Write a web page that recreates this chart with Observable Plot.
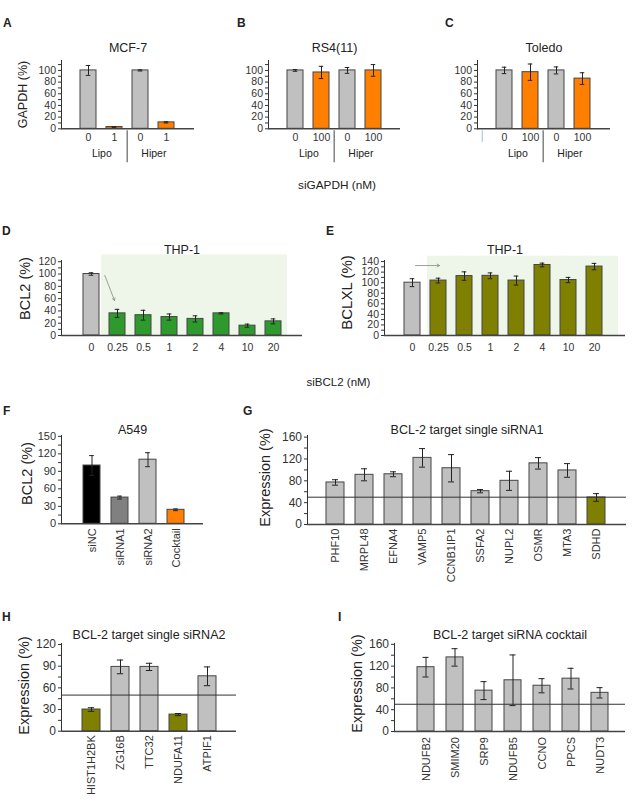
<!DOCTYPE html>
<html><head><meta charset="utf-8">
<script src="https://cdn.jsdelivr.net/npm/d3@7"></script>
<script src="https://cdn.jsdelivr.net/npm/@observablehq/plot@0.6"></script>
<style>
body{margin:0;background:#fff;}
#fig{position:relative;width:632px;height:802px;background:#fff;font-family:"Liberation Sans",Arial,Helvetica,sans-serif;color:#222;overflow:hidden}
.lab{position:absolute;line-height:1;white-space:nowrap}
svg.big [aria-label^="y-axis"] text{font-size:12px}
</style></head><body><div id="fig"></div>
<script>
// ---------- data ----------
// A–C: siGAPDH knockdown
const gapdhGroups = ["Lipo", "Lipo", "Hiper", "Hiper"];
const mcf7Dose = ["0", "1", "0", "1"];
const mcf7Values = [100, 3, 100, 11];
const mcf7Errors = [8.5, 0.5, 1, 1];
const rs4Dose = ["0", "100", "0", "100"];
const rs4Values = [100, 96.5, 100, 100];
const rs4Errors = [1.5, 10.5, 5, 10];
const toledoDose = ["0", "100", "0", "100"];
const toledoValues = [100, 97, 100, 86];
const toledoErrors = [5.5, 14, 6, 10];
// D–E: siBCL2 dose series in THP-1
const bcl2Dose = ["0", "0.25", "0.5", "1", "2", "4", "10", "20"];
const thpBcl2Values = [100, 36, 33, 30, 27, 36, 16, 23];
const thpBcl2Errors = [2, 6.5, 8, 5, 5, 1, 2.5, 4];
const thpBclxlValues = [100, 104, 112.5, 113, 104, 133.5, 105, 130.5];
const thpBclxlErrors = [7.5, 4.5, 8, 5.5, 8.5, 3.5, 5, 6];
// F: A549
const a549Cats = ["siNC", "siRNA1", "siRNA2", "Cocktail"];
const a549Values = [100, 45, 110, 24];
const a549Errors = [17, 2.5, 12, 1.5];
// G: single siRNA1 targets
const s1Genes = ["PHF10", "MRPL48", "EFNA4", "VAMP5", "CCNB1IP1", "SSFA2", "NUPL2", "OSMR", "MTA3", "SDHD"];
const s1Values = [77, 91, 92, 122, 103, 61, 80, 112, 99, 49.5];
const s1Errors = [5, 11, 4.5, 17, 25, 3, 17.5, 10.5, 12.5, 7];
// H: single siRNA2 targets
const s2Genes = ["HIST1H2BK", "ZG16B", "TTC32", "NDUFA11", "ATPIF1"];
const s2Values = [30, 89, 89, 23, 76];
const s2Errors = [2.5, 9.5, 5, 1.5, 13];
// I: cocktail targets
const ckGenes = ["NDUFB2", "SMIM20", "SRP9", "NDUFB5", "CCNO", "PPCS", "NUDT3"];
const ckValues = [118, 136, 75, 94, 84, 97, 71];
const ckErrors = [18, 16, 16.5, 46.5, 13, 19, 9.5];
const threshold = 50;

// ---------- styles ----------
const FONT = '"Liberation Sans", Arial, Helvetica, sans-serif';
const GRAY = "#c0c0c0", ORANGE = "#ff8000", GREEN = "#2e9a2e", OLIVE = "#808000", BG = "#eef5e9";
const a549Fill = {siNC: "#000000", siRNA1: "#808080", siRNA2: "#c0c0c0", Cocktail: ORANGE};
const fig = document.getElementById("fig");

function barPanel(o) {
  const keys = o.keys, n = keys.length;
  const R = o.fx1 - o.fx0;
  const pi = 1 - o.bw / o.step;
  const po = (R / o.step - n + pi) / 2;
  const align = Math.max(0, Math.min(1, o.first / (R - o.step * (n - pi))));
  const frameH = o.fy1 - o.fy0;
  const rows = keys.map((k, i) => ({key: k, v: o.values[i], e: o.errors[i], fill: o.fill(k, i)}));
  const cap = (o.bw - o.cap) / 2;
  const marks = [];
  if (o.bg) marks.push(Plot.barY(o.bg.keys, {x: d => d, y1: 0, y2: o.bg.top, fill: BG, insetLeft: o.bg.il, insetRight: o.bg.ir}));
  marks.push(
    Plot.barY(rows, {x: "key", y: "v", fill: "fill", stroke: "#454545", strokeWidth: 1}),
    Plot.ruleX(rows, {x: "key", y1: d => d.v - d.e, y2: d => d.v + d.e, stroke: "#222", strokeWidth: 1}),
    Plot.tickY(rows, {x: "key", y: d => d.v + d.e, stroke: "#222", strokeWidth: 1, insetLeft: cap, insetRight: cap}),
    Plot.tickY(rows, {x: "key", y: d => d.v - d.e, stroke: "#222", strokeWidth: 1, insetLeft: cap, insetRight: cap})
  );
  if (o.ref != null) marks.push(Plot.ruleY([o.ref], {stroke: "#333", strokeWidth: 1}));
  marks.push(Plot.ruleY([0], {stroke: "#444", strokeWidth: 1.4}));
  marks.push(Plot.text([o.title], {text: d => d, frameAnchor: "top", dy: o.titleY - o.fy0, fontSize: 12.5, fill: "#222"}));
  if (o.ylabel) marks.push(Plot.text([o.ylabel], {text: d => d, frameAnchor: "left", textAnchor: "middle", rotate: -90,
    dx: o.ylx - o.fx0, dy: o.yly - (o.fy0 + o.fy1) / 2, fontSize: o.ylabelSize, fill: "#222"}));
  if (o.groups) {
    const names = [...new Set(o.groups)];
    const firsts = names.map(g => o.groups.indexOf(g));
    const counts = names.map(g => o.groups.filter(x => x === g).length);
    marks.push(Plot.text(names, {x: (d, i) => keys[firsts[i]], text: d => d, frameAnchor: "bottom",
      dx: o.step * (counts[0] - 1) / 2, dy: 27.7, fontSize: 10.5, fill: "#222"}));
    marks.push(Plot.ruleX(firsts.slice(1), {x: i => keys[i], dx: -o.step / 2,
      insetTop: frameH + 2, insetBottom: -34, stroke: "#444", strokeWidth: 1}));
  }
  if (o.extra) marks.push(...o.extra(frameH));
  const svg = Plot.plot({
    width: o.w, height: o.h,
    marginLeft: o.fx0 - o.left, marginRight: o.left + o.w - o.fx1,
    marginTop: o.fy0 - o.top, marginBottom: o.top + o.h - o.fy1,
    x: {domain: keys, paddingInner: pi, paddingOuter: po, align, tickSize: 0, tickPadding: o.xPad,
        tickFormat: o.xfmt || (d => d), tickRotate: o.rot || 0, label: null},
    y: {domain: [0, o.ymax], ticks: o.ticks, tickFormat: d => o.major.includes(d) ? String(d) : "",
        tickSize: 3, tickPadding: 2.5, line: true, label: null},
    color: {type: "identity"},
    marks
  });
  Object.assign(svg.style, {position: "absolute", left: o.left + "px", top: o.top + "px", background: "transparent",
    overflow: "visible", fontFamily: FONT, fontSize: (o.fontSize || 10.5) + "px", color: "#333", maxWidth: "none"});
  if (o.big) svg.classList.add("big");
  fig.appendChild(svg);
}

function label(text, x, baseline, size, bold, center) {
  const d = document.createElement("div");
  d.className = "lab";
  d.textContent = text;
  d.style.fontSize = size + "px";
  if (bold) d.style.fontWeight = "bold";
  d.style.top = (baseline - 0.8465 * size) + "px";
  d.style.left = x + "px";
  if (center) d.style.transform = "translateX(-50%)";
  fig.appendChild(d);
}

// ---------- A–C ----------
const abc = {top: 30, h: 150, fy0: 60, fy1: 128.3, ymax: 117, ticks: d3.range(0, 111, 10), major: d3.range(0, 101, 20),
  step: 26.7, bw: 16.5, first: 18, cap: 5, titleY: 43, xPad: 5, groups: gapdhGroups, xfmt: k => k.split("|")[1]};
const gKeys = dose => gapdhGroups.map((g, i) => g + "|" + dose[i]);
const doseFill = k => k.split("|")[1] === "0" ? GRAY : ORANGE;
barPanel({...abc, left: 0, w: 215, fx0: 61, fx1: 194, keys: gKeys(mcf7Dose), values: mcf7Values, errors: mcf7Errors,
  fill: doseFill, title: "MCF-7", ylabel: "GAPDH (%)", ylx: 22, yly: 94, ylabelSize: 12.5});
barPanel({...abc, left: 220, w: 200, fx0: 268, fx1: 400, keys: gKeys(rs4Dose), values: rs4Values, errors: rs4Errors,
  fill: doseFill, title: "RS4(11)"});
barPanel({...abc, left: 420, w: 212, fx0: 477, fx1: 610, keys: gKeys(toledoDose), values: toledoValues, errors: toledoErrors,
  fill: doseFill, title: "Toledo",
  extra: fh => [Plot.ruleX([gKeys(toledoDose)[0]], {x: d => d, dx: -22.3, insetTop: fh + 2, insetBottom: -13.5, stroke: "#9dbbdd", strokeWidth: 1})]});

// ---------- D–E ----------
const de = {top: 235, h: 130, fy0: 260, fy1: 335, step: 26.67, bw: 16.4, cap: 5, titleY: 245, xPad: 8, keys: bcl2Dose};
barPanel({...de, left: 0, w: 310, fx0: 61, fx1: 302, first: 19, ymax: 122, ticks: d3.range(0, 121, 10), major: d3.range(0, 121, 20),
  values: thpBcl2Values, errors: thpBcl2Errors, fill: k => k === "0" ? GRAY : GREEN, title: "THP-1",
  ylabel: "BCL2 (%)", ylx: 25, yly: 288, ylabelSize: 14.5,
  bg: {keys: bcl2Dose.slice(1), top: 131, il: -8, ir: -6},
  extra: () => [Plot.arrow([{a: "0", b: "0.25"}], {x1: "a", x2: "b", y1: 166, y2: 57, dx: -3, insetStart: 45,
    headLength: 5, stroke: "#888", strokeWidth: 0.8})]});
barPanel({...de, left: 310, w: 322, fx0: 384, fx1: 625, first: 18, ymax: 142, ticks: d3.range(0, 141, 10), major: d3.range(0, 141, 20),
  values: thpBclxlValues, errors: thpBclxlErrors, fill: k => k === "0" ? GRAY : OLIVE, title: "THP-1",
  ylabel: "BCLXL (%)", ylx: 347, yly: 292, ylabelSize: 15,
  bg: {keys: bcl2Dose.slice(1), top: 150, il: -3, ir: -16},
  extra: () => [Plot.arrow([{a: "0", b: "0.25"}], {x1: "a", x2: "b", y1: 132.5, y2: 132.5, dx: 1, insetStart: 2,
    headLength: 5, stroke: "#888", strokeWidth: 0.8})]});

// ---------- F ----------
barPanel({left: 0, top: 410, w: 215, h: 190, fx0: 61, fx1: 203, fy0: 435, fy1: 523.3, ymax: 151.5,
  ticks: d3.range(0, 151, 15), major: d3.range(0, 151, 30), step: 28.7, bw: 17.3, first: 21, cap: 5,
  keys: a549Cats, values: a549Values, errors: a549Errors, fill: k => a549Fill[k], title: "A549", titleY: 425,
  ylabel: "BCL2 (%)", ylx: 27, yly: 473, ylabelSize: 14.5, rot: -90, xPad: 4.5, fontSize: 11});

// ---------- G–I ----------
const low = vals => (k, i) => vals[i] < threshold ? OLIVE : GRAY;
barPanel({left: 220, top: 410, w: 412, h: 185, fx0: 307, fx1: 626, fy0: 435, fy1: 524, ymax: 163,
  ticks: d3.range(0, 161, 20), major: d3.range(0, 161, 40), step: 29.1, bw: 18, first: 19, cap: 6,
  keys: s1Genes, values: s1Values, errors: s1Errors, fill: low(s1Values), ref: threshold,
  title: "BCL-2 target single siRNA1", titleY: 425, ylabel: "Expression (%)", ylx: 265, yly: 477, ylabelSize: 14.5,
  rot: -90, xPad: 4, fontSize: 11, big: true});
barPanel({left: 0, top: 615, w: 250, h: 187, fx0: 61, fx1: 236, fy0: 643, fy1: 730.7, ymax: 121.4,
  ticks: d3.range(0, 121, 15), major: d3.range(0, 121, 30), step: 29, bw: 17.7, first: 21, cap: 6,
  keys: s2Genes, values: s2Values, errors: s2Errors, fill: low(s2Values), ref: threshold,
  title: "BCL-2 target single siRNA2", titleY: 630, ylabel: "Expression (%)", ylx: 24, yly: 685, ylabelSize: 14.5,
  rot: -90, xPad: 4, fontSize: 11, big: true});
barPanel({left: 320, top: 615, w: 312, h: 187, fx0: 394, fx1: 625, fy0: 643, fy1: 731, ymax: 161.5,
  ticks: d3.range(0, 161, 20), major: d3.range(0, 161, 40), step: 29.8, bw: 17, first: 20, cap: 6,
  keys: ckGenes, values: ckValues, errors: ckErrors, fill: low(ckValues), ref: threshold,
  title: "BCL-2 target siRNA cocktail", titleY: 630, ylabel: "Expression (%)", ylx: 357, yly: 683, ylabelSize: 14.5,
  rot: -90, xPad: 5.5, fontSize: 11, big: true});

// ---------- panel letters & shared labels ----------
[["A", 3, 26.7], ["B", 237, 26.7], ["C", 445, 26.7], ["D", 2, 235], ["E", 326, 235],
 ["F", 3, 415], ["G", 243, 415], ["H", 2, 620.7], ["I", 338, 620.7]].forEach(([t, x, y]) => label(t, x, y, 12, true, false));
label("siGAPDH (nM)", 337, 189.5, 11.8, false, true);
label("siBCL2 (nM)", 338.5, 387, 11.5, false, true);
</script></body></html>
